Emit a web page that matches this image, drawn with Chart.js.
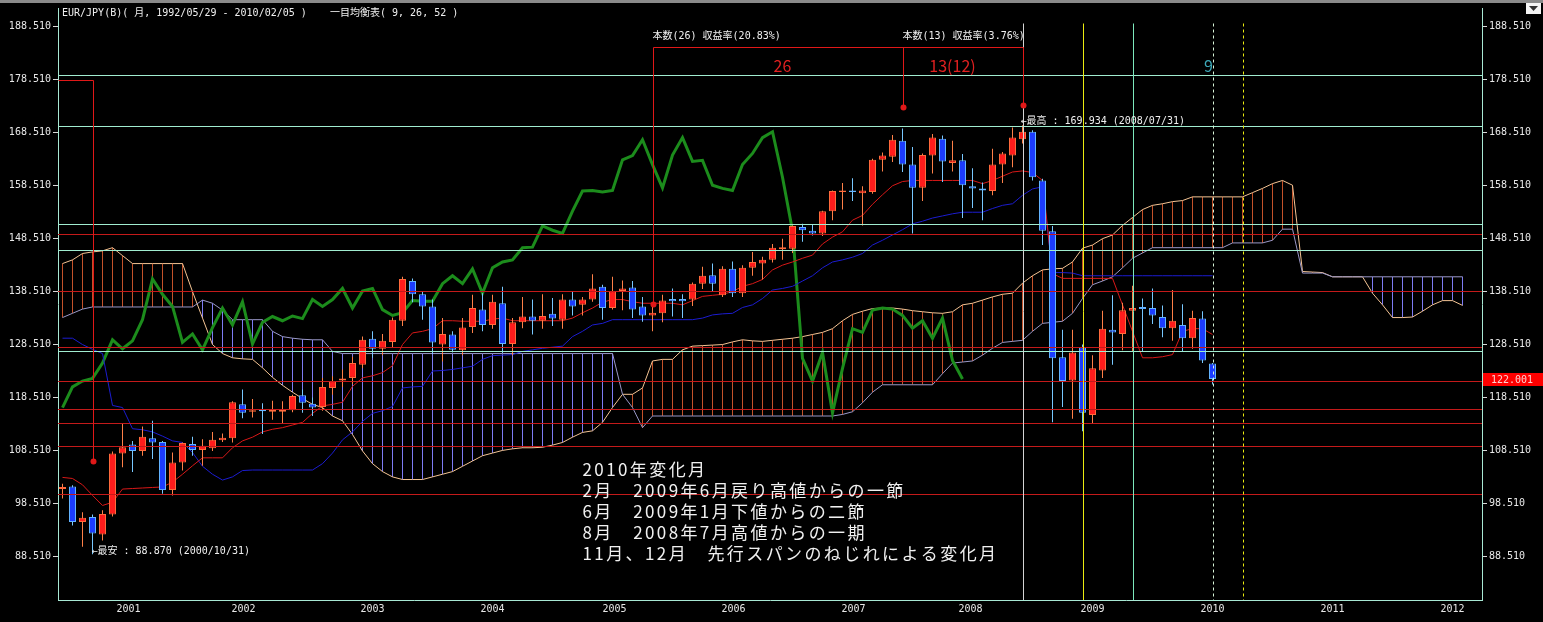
<!DOCTYPE html>
<html>
<head>
<meta charset="utf-8">
<script src="https://cdn.jsdelivr.net/npm/chart.js@4.4.1/dist/chart.umd.min.js"></script>
<style>
  html, body { margin: 0; padding: 0; background: #000; }
  #c { display: block; }
</style>
</head>
<body>
<canvas id="c" width="1543" height="622"></canvas>
<script>
// EUR/JPY monthly, Ichimoku (9, 26, 52)
// month index 0 = 2000/07

const opens = [101.2,101.7,95.0,95.9,92.6,96.4,107.9,109.6,108.4,110.8,
  110.1,101.0,106.2,109.7,108.6,108.9,110.4,110.8,117.2,115.8,
  116.3,115.8,115.8,116.1,118.9,117.3,116.7,120.3,121.7,122.2,
  124.7,129.6,127.7,129.0,133.0,140.5,138.0,135.7,128.5,130.4,
  127.4,131.8,135.1,132.2,136.3,128.6,132.7,133.8,133.0,134.3,
  133.2,137.0,136.0,137.0,139.4,135.4,138.6,139.3,135.7,134.0,
  134.4,137.1,137.1,137.0,140.0,141.6,137.8,142.8,138.2,143.0,
  143.8,144.5,146.5,146.6,150.7,150.0,149.5,153.7,157.3,157.6,
  157.1,157.3,163.4,164.0,167.0,162.5,158.1,164.2,167.4,162.8,
  163.3,158.4,158.0,157.5,162.5,164.2,167.3,168.7,159.5,149.9,
  126.1,121.7,128.0,115.2,123.6,131.3,130.5,134.9,135.6,135.4,
  133.7,131.6,132.2,129.7,133.4,124.9];
const highs = [102.2,101.9,96.8,96.4,97.2,108.3,113.6,110.3,113.0,114.1,
  110.3,108.1,110.0,111.1,110.6,112.0,111.7,117.8,120.0,118.2,
  117.4,117.9,117.8,119.0,120.0,118.5,122.2,122.5,123.8,126.2,
  130.0,131.0,130.5,133.6,141.3,141.0,138.5,137.0,133.5,131.0,
  133.5,137.9,138.2,137.9,139.4,133.5,137.5,137.0,138.0,137.3,
  138.0,138.5,137.5,141.8,139.8,141.3,140.6,140.5,137.5,135.7,
  137.9,139.1,138.0,140.2,143.2,143.8,143.3,144.2,143.5,146.0,
  145.1,147.5,148.5,151.0,151.3,151.2,153.8,157.6,159.0,159.9,
  158.4,163.6,164.8,168.1,169.3,165.8,164.6,168.3,168.0,167.0,
  164.5,161.8,159.1,165.5,164.9,169.5,169.93,169.0,159.8,150.9,
  131.3,131.3,128.5,126.5,134.9,137.8,136.4,139.6,137.2,139.1,
  135.9,138.8,136.1,134.9,134.8,125.0];
const lows = [99.4,94.3,90.3,88.87,91.5,96.0,105.3,104.4,107.5,106.9,
  100.3,100.0,104.7,107.5,105.6,108.4,110.1,110.0,114.6,114.7,
  111.6,114.3,113.6,115.7,115.6,115.0,116.0,119.0,120.5,121.0,
  124.0,126.0,126.5,128.0,132.0,136.5,133.2,126.7,125.3,127.0,
  126.5,130.7,131.0,131.5,126.9,126.5,131.6,130.4,131.5,132.0,
  131.5,134.0,134.0,136.6,133.2,135.1,135.0,133.5,132.8,131.0,
  132.7,133.8,133.5,135.8,139.0,138.5,137.5,137.5,137.5,141.5,
  140.8,144.0,144.5,145.8,147.9,149.1,149.0,152.0,154.0,155.6,
  151.0,157.0,161.2,163.0,161.1,149.5,155.6,160.8,159.2,161.2,
  152.4,154.3,152.0,156.7,159.0,162.0,166.5,159.5,147.3,113.8,
  116.7,114.5,112.1,113.6,122.2,124.7,127.4,127.2,127.2,132.4,
  129.9,129.2,127.2,127.7,125.0,120.95];
const closes = [101.6,95.0,95.8,92.8,96.5,107.9,109.1,108.4,111.1,110.0,
  101.0,106.2,109.9,108.6,109.4,110.5,110.9,117.6,115.6,116.1,
  115.9,116.2,116.2,118.8,117.5,116.6,120.5,121.6,122.1,125.0,
  129.4,127.7,129.2,133.2,140.9,138.0,135.7,128.9,130.5,127.5,
  131.7,135.4,132.2,136.6,128.6,132.7,133.8,133.0,133.9,133.4,
  137.0,135.7,137.0,139.1,135.4,138.6,139.1,135.1,134.0,134.5,
  136.8,136.7,136.7,140.0,141.5,140.0,142.8,138.2,143.0,144.1,
  144.5,146.8,146.9,150.9,150.1,149.5,153.7,157.5,157.6,157.3,
  157.6,163.4,164.2,167.2,162.5,158.1,164.3,167.6,163.1,163.3,
  158.6,158.0,157.6,162.5,164.6,167.6,168.7,160.1,150.0,125.9,
  121.6,127.0,115.6,124.0,131.5,130.8,135.0,135.4,135.2,134.0,
  131.6,133.0,129.7,133.5,125.5,122.0];

// 転換線 (9)
const tenkan = [103.4,103.2,102.0,100.0,98.1,98.7,101.2,101.3,101.4,101.5,
  101.6,102.5,104.0,105.6,107.1,107.1,107.1,109.0,110.3,111.0,
  112.0,112.5,112.8,113.3,113.8,115.5,116.9,117.2,117.6,120.6,
  122.2,122.6,123.2,124.5,128.5,130.7,131.0,131.5,133.0,133.0,
  132.9,132.9,132.9,133.3,133.5,133.0,133.0,133.0,133.0,133.0,
  133.0,133.5,134.5,135.4,136.5,137.0,137.0,136.6,136.3,136.3,
  136.3,136.3,136.0,136.8,137.6,137.8,138.0,138.5,139.5,140.0,
  140.8,142.6,143.5,144.1,144.8,145.4,147.5,148.8,149.8,152.0,
  152.9,155.0,156.8,158.5,159.3,159.5,159.5,159.5,159.5,159.5,
  159.5,159.5,158.9,159.5,160.3,161.1,161.3,161.0,159.5,141.9,
  141.0,141.0,141.0,141.0,141.0,141.0,136.0,131.0,126.0,126.0,
  126.2,126.6,131.0,131.5,131.5,130.4];
// 基準線 (26)
const kijun = [129.7,129.7,128.5,127.6,126.8,117.0,116.6,112.6,112.4,112.0,
  111.2,110.3,110.0,108.1,105.5,104.0,102.9,103.5,104.7,104.8,
  104.8,104.8,104.8,104.8,104.8,104.8,106.0,108.0,110.5,112.0,
  114.0,115.5,116.0,116.8,120.3,120.5,120.6,123.5,123.6,123.8,
  124.1,124.4,125.7,126.4,126.5,126.6,127.2,127.5,127.8,128.0,
  128.2,130.0,131.0,132.2,132.5,133.2,133.2,133.2,133.2,133.2,
  133.2,133.2,133.2,133.2,133.5,134.1,134.3,134.4,135.5,136.0,
  137.2,138.8,139.1,139.5,140.5,141.5,143.0,144.1,144.5,145.0,
  145.7,147.3,148.2,149.2,150.2,151.3,151.8,152.4,152.8,153.2,
  153.5,153.5,153.5,154.2,154.8,155.1,156.7,157.9,158.3,142.1,
  142.1,142.0,141.5,141.5,141.5,141.5,141.5,141.5,141.5,141.5,
  141.5,141.5,141.5,141.5,141.5,141.5];
// 遅行スパン (plotted from index 0)
const chikou = [116.6,120.5,121.6,122.1,125.0,129.4,127.7,129.2,133.2,140.9,
  138.0,135.7,128.9,130.5,127.5,131.7,135.4,132.2,136.6,128.6,
  132.7,133.8,133.0,133.9,133.4,137.0,135.7,137.0,139.1,135.4,
  138.6,139.1,135.1,134.0,134.5,136.8,136.7,136.7,140.0,141.5,
  140.0,142.8,138.2,143.0,144.1,144.5,146.8,146.9,150.9,150.1,
  149.5,153.7,157.5,157.6,157.3,157.6,163.4,164.2,167.2,162.5,
  158.1,164.3,167.6,163.1,163.3,158.6,158.0,157.6,162.5,164.6,
  167.6,168.7,160.1,150.0,125.9,121.6,127.0,115.6,124.0,131.5,
  130.8,135.0,135.4,135.2,134.0,131.6,133.0,129.7,133.5,125.5,
  122.0];
// 先行スパン1 / 2 (plotted from index 0, run 26 months past the last candle)
const senkouA = [143.8,144.5,145.7,146.0,146.2,146.8,145.3,143.8,143.8,143.8,
  143.8,143.8,143.8,138.5,133.5,128.5,126.8,126.0,125.8,125.7,
  124.1,122.3,120.8,119.5,118.3,117.2,116.6,115.0,114.1,111.5,
  108.4,106.0,104.5,103.5,103.0,103.0,103.0,103.5,104.0,104.5,
  105.5,106.5,107.5,108.0,108.5,108.8,109.0,109.0,109.1,109.5,
  110.0,111.0,111.9,112.2,113.8,116.6,119.1,119.1,120.3,125.4,
  125.7,125.7,127.5,128.2,128.3,128.4,128.5,129.0,129.4,129.2,
  129.1,129.3,129.5,129.7,130.0,130.4,130.8,131.5,133.0,134.2,
  134.8,135.3,135.4,135.4,135.2,134.9,134.7,134.5,134.4,134.7,
  136.0,136.3,136.9,137.5,138.0,138.2,140.1,141.5,142.6,142.8,
  142.9,144.1,146.7,147.3,148.5,149.2,151.0,152.5,154.0,154.8,
  155.1,155.5,155.7,156.4,156.4,156.4,156.4,156.4,156.4,157.2,
  158.0,158.9,159.5,158.6,142.3,142.2,142.1,141.3,141.3,141.3,
  141.3,138.2,136.0,133.6,133.6,133.7,134.8,136.0,136.8,136.8,
  135.9];
const senkouB = [133.6,134.4,135.2,135.6,135.6,135.6,135.6,135.6,135.6,135.6,
  135.6,135.6,135.6,135.6,136.9,136.3,135.0,133.2,133.2,133.2,
  133.2,131.0,130.0,129.7,129.5,129.4,129.4,127.2,126.8,126.8,
  126.8,126.8,126.8,126.8,126.8,126.8,126.8,126.8,126.8,126.8,
  126.8,126.8,126.8,126.8,126.8,126.8,126.8,126.8,126.8,126.8,
  126.8,126.8,126.8,126.8,126.8,126.8,119.1,116.6,112.8,115.0,
  115.0,115.0,115.0,115.0,115.0,115.0,115.0,115.0,115.0,115.0,
  115.0,115.0,115.0,115.0,115.0,115.0,115.0,115.0,115.3,115.8,
  117.5,119.5,120.9,120.9,120.9,120.9,120.9,120.9,123.0,125.0,
  125.2,125.4,126.5,127.8,128.9,129.1,129.3,131.0,132.5,132.7,
  132.9,134.4,137.2,139.8,140.5,141.3,143.0,144.8,145.8,146.8,
  146.8,146.8,146.8,146.8,146.8,146.8,146.8,147.7,147.7,147.7,
  147.7,148.2,150.3,150.3,142.0,142.0,142.0,141.3,141.3,141.3,
  141.3,141.3,141.3,141.3,141.3,141.3,141.3,141.3,141.3,141.3,
  141.3];

// axis ticks
const priceTicks = [88.51, 98.51, 108.51, 118.51, 128.51, 138.51, 148.51, 158.51, 168.51, 178.51, 188.51];
const yearLabels = ['2001','2002','2003','2004','2005','2006','2007','2008','2009','2010','2011','2012'];
const yearTickPos = [6.6, 18.1, 31.0, 43.0, 55.2, 67.1, 79.1, 90.8, 103.0, 115.0, 127.0, 139.0];

// drawn lines (price levels / month indexes)
const cyanLevels = [179.5, 169.8, 151.2, 146.35, 127.3];
const redLevels = [149.3, 138.7, 128.1, 121.7, 116.25, 113.6, 109.4, 100.3];
const vLineIdx = [96, 102, 107, 115, 118];
const vLineColor = ['#d4d4d4', '#eaea10', '#7ce8bc', '#d8f4d8', '#eaea10'];
const vLineDash = [false, false, false, true, true];
const lastPrice = 122.001;

const X_MIN = -0.45, X_MAX = 141.95;
const Y_MIN = 80.241, Y_MAX = 192.081;
const MONO = '"DejaVu Sans Mono", "Noto Sans CJK JP", monospace';
const JP = '"Noto Sans CJK JP", "DejaVu Sans", sans-serif';

// ----- datasets -----
const idx = (arr, from) => arr.map((v, i) => ({ x: i + (from || 0), y: v }));
const up = i => closes[i] >= opens[i];

const hatchData = senkouA.map((a, i) => ({ x: i, y: [Math.min(a, senkouB[i]), Math.max(a, senkouB[i])] }));
const wickData = highs.map((h, i) => ({ x: i, y: [lows[i], h] }));
const bodyData = opens.map((o, i) => ({ x: i, y: [o, closes[i]] }));

function lineDs(label, data, color, width, order) {
  return {
    type: 'line', label, data, yAxisID: 'y',
    borderColor: color, borderWidth: width, pointRadius: 0,
    tension: 0, fill: false, order
  };
}

const datasets = [
  {
    type: 'bar', label: 'kumo', data: hatchData, yAxisID: 'y', grouped: false,
    barThickness: 1, inflateAmount: 0, order: 20,
    backgroundColor: c => senkouA[c.dataIndex] >= senkouB[c.dataIndex] ? '#c4522a' : '#7e7cf4'
  },
  lineDs('senkouA', idx(senkouA), '#f4c494', 1, 18),
  lineDs('senkouB', idx(senkouB), '#9a98c8', 1, 17),
  lineDs('chikou', idx(chikou), '#1c8c1c', 3, 15),
  lineDs('kijun', idx(kijun), '#1c1cd0', 1, 14),
  lineDs('tenkan', idx(tenkan), '#d81818', 1, 13),
  {
    type: 'bar', label: 'wick', data: wickData, yAxisID: 'y', grouped: false,
    barThickness: 1, inflateAmount: 0, order: 6,
    backgroundColor: c => up(c.dataIndex) ? '#ff8048' : '#78c8ff'
  },
  {
    type: 'bar', label: 'body', data: bodyData, yAxisID: 'y', grouped: false,
    barThickness: 7, inflateAmount: 0, order: 5,
    borderWidth: 1, borderSkipped: false,
    backgroundColor: c => up(c.dataIndex) ? '#ff1c1c' : '#1c3cff',
    borderColor: c => up(c.dataIndex) ? '#ff6a3c' : '#64b4ff'
  }
];

// ----- overlay: drawn lines, notes -----
const overlay = {
  id: 'overlay',
  afterDatasetsDraw(chart) {
    const { ctx, chartArea: a, scales: { x, y } } = chart;
    const px = v => Math.round(x.getPixelForValue(v)) + 0.5;
    const py = v => Math.round(y.getPixelForValue(v)) + 0.5;
    ctx.save();
    ctx.beginPath();
    ctx.rect(a.left, a.top, a.right - a.left, a.bottom - a.top);
    ctx.clip();
    ctx.lineWidth = 1;

    // horizontal levels
    const hline = (p, color) => {
      ctx.strokeStyle = color;
      ctx.beginPath();
      ctx.moveTo(a.left, py(p));
      ctx.lineTo(a.right, py(p));
      ctx.stroke();
    };
    redLevels.forEach(p => hline(p, '#c41a1a'));
    cyanLevels.forEach(p => hline(p, '#a0ecd0'));

    // vertical markers
    vLineIdx.forEach((i, k) => {
      ctx.strokeStyle = vLineColor[k];
      ctx.setLineDash(vLineDash[k] ? [3, 3] : []);
      ctx.beginPath();
      ctx.moveTo(px(i), py(189.3));
      ctx.lineTo(px(i), a.bottom);
      ctx.stroke();
    });
    ctx.setLineDash([]);

    // 日柄 brackets
    ctx.strokeStyle = '#e01818';
    ctx.fillStyle = '#e01818';
    const seg = (i1, p1, i2, p2) => {
      ctx.beginPath();
      ctx.moveTo(px(i1), py(p1));
      ctx.lineTo(px(i2), py(p2));
      ctx.stroke();
    };
    const dot = (i, p) => {
      ctx.beginPath();
      ctx.arc(px(i), py(p), 3, 0, Math.PI * 2);
      ctx.fill();
    };
    seg(X_MIN, 178.51, 3, 178.51);
    seg(3, 178.51, 3, 106.5);
    dot(3, 106.5);
    seg(59, 184.75, 96, 184.75);
    seg(59, 184.75, 59, 136.2);
    seg(84, 184.75, 84, 173.3);
    seg(96, 184.75, 96, 173.7);
    dot(59, 136.2);
    dot(84, 173.3);
    dot(96, 173.7);

    ctx.textBaseline = 'middle';
    ctx.font = '16px ' + JP;
    ctx.textAlign = 'center';
    ctx.fillStyle = '#e02020';
    ctx.fillText('26', x.getPixelForValue(72), y.getPixelForValue(181.2));
    ctx.fillText('13(12)', x.getPixelForValue(89), y.getPixelForValue(181.2));
    ctx.fillStyle = '#3ca8b8';
    ctx.fillText('9', x.getPixelForValue(114.6), y.getPixelForValue(181.2));

    ctx.textAlign = 'left';
    ctx.fillStyle = '#f0f0f0';
    ctx.font = '10px ' + MONO;
    ctx.fillText('本数(26) 収益率(20.83%)', x.getPixelForValue(59), y.getPixelForValue(186.8));
    ctx.fillText('本数(13) 収益率(3.76%)', x.getPixelForValue(84), y.getPixelForValue(186.8));
    ctx.fillText('←最高 : 169.934 (2008/07/31)', x.getPixelForValue(95.8), y.getPixelForValue(170.6));
    ctx.fillText('←最安 : 88.870 (2000/10/31)', x.getPixelForValue(2.9), y.getPixelForValue(89.45));

    // 変化月 note
    const note = ['2010年変化月', '2月　2009年6月戻り高値からの一節', '6月　2009年1月下値からの二節',
      '8月　2008年7月高値からの一期', '11月、12月　先行スパンのねじれによる変化月'];
    ctx.font = '17px ' + JP;
    ctx.letterSpacing = '2.4px';
    note.forEach((t, k) => {
      ctx.fillText(t, x.getPixelForValue(52), y.getPixelForValue(104.86) + k * 21);
    });
    ctx.letterSpacing = '0px';
    ctx.restore();
  },
  afterDraw(chart) {
    const { ctx, chartArea: a, scales: { y } } = chart;
    ctx.save();
    // top strip
    ctx.fillStyle = '#8a8a8a';
    ctx.fillRect(0, 0, chart.width, 3);
    // header
    ctx.fillStyle = '#f0f0f0';
    ctx.font = '10px ' + MONO;
    ctx.textBaseline = 'middle';
    ctx.textAlign = 'left';
    ctx.fillText('EUR/JPY(B)( 月, 1992/05/29 - 2010/02/05 )', 62, 13);
    ctx.fillText('一目均衡表( 9, 26, 52 )', 330, 13);
    // last price tag
    const ly = Math.round(y.getPixelForValue(lastPrice));
    ctx.fillStyle = '#ff0000';
    ctx.fillRect(a.right + 1, ly - 6, chart.width - a.right - 1, 13);
    ctx.fillStyle = '#ffd0d0';
    ctx.fillText(lastPrice.toFixed(3), a.right + 9, ly + 1);
    // menu button
    ctx.fillStyle = '#f4f4f4';
    ctx.fillRect(1526, 3, 15, 11);
    ctx.fillStyle = '#303030';
    ctx.beginPath();
    ctx.moveTo(1529, 6); ctx.lineTo(1538, 6); ctx.lineTo(1533.5, 11); ctx.closePath();
    ctx.fill();
    ctx.restore();
  }
};

function yAxis(position, width) {
  return {
    type: 'linear', position, min: Y_MIN, max: Y_MAX,
    afterFit: s => { s.width = width; },
    afterBuildTicks: s => { s.ticks = priceTicks.map(v => ({ value: v })); },
    ticks: {
      autoSkip: false, color: '#e8e8e8', padding: 2,
      font: { family: MONO, size: 10 },
      callback: v => Number(v).toFixed(3)
    },
    grid: { drawOnChartArea: false, drawTicks: true, tickLength: 5, color: '#d8d8d8' },
    border: { display: true, color: '#a8e8d4' }
  };
}

new Chart(document.getElementById('c'), {
  type: 'bar',
  data: { datasets },
  options: {
    responsive: false,
    animation: false,
    devicePixelRatio: 1,
    layout: { padding: { top: 5, left: 0, right: 0, bottom: 0 } },
    plugins: { legend: { display: false }, tooltip: { enabled: false } },
    scales: {
      x: {
        type: 'linear', position: 'bottom', min: X_MIN, max: X_MAX, offset: false,
        afterFit: s => { s.height = 22; },
        afterBuildTicks: s => { s.ticks = yearTickPos.map(v => ({ value: v })); },
        ticks: {
          autoSkip: false, maxRotation: 0, color: '#e8e8e8', padding: 3,
          font: { family: MONO, size: 10 },
          callback: (v, i) => yearLabels[i]
        },
        grid: { display: false, drawTicks: false, offset: false },
        border: { display: true, color: '#a8e8d4' }
      },
      yL: yAxis('left', 58),
      y: yAxis('right', 61)
    }
  },
  plugins: [overlay]
});
</script>
</body>
</html>
